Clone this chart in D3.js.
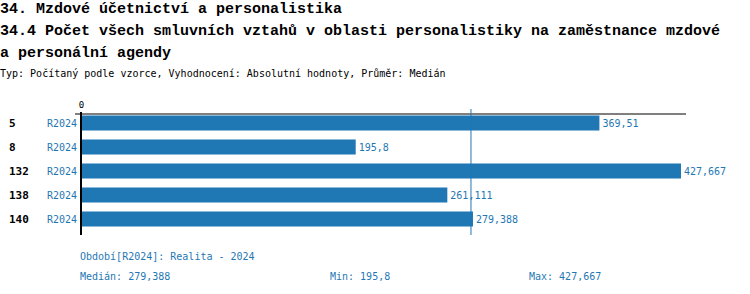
<!DOCTYPE html>
<html><head><meta charset="utf-8">
<script src="https://cdn.jsdelivr.net/npm/d3@7"></script>
<style>
body{margin:0;background:#fff}
text{font-family:"DejaVu Sans Mono","Liberation Mono",monospace}
text.t{font-family:"Liberation Mono","DejaVu Sans Mono",monospace}
</style></head>
<body>
<svg id="c" width="750" height="294"></svg>
<script>
const titleLines = ["34. Mzdové účetnictví a personalistika",
  "34.4 Počet všech smluvních vztahů v oblasti personalistiky na zaměstnance mzdové",
  "a personální agendy"];
const subtitle = "Typ: Počítaný podle vzorce, Vyhodnocení: Absolutní hodnoty, Průměr: Medián";
const categories = ["5", "8", "132", "138", "140"];
const periods = ["R2024", "R2024", "R2024", "R2024", "R2024"];
const values = [369.51, 195.8, 427.667, 261.111, 279.388];
const valueLabels = ["369,51", "195,8", "427,667", "261,111", "279,388"];
const tickValues = [0];
const medianValue = 279.388;
const footer1 = "Období[R2024]: Realita - 2024";
const footerStats = ["Medián: 279,388", "Min: 195,8", "Max: 427,667"];

const blue = "#1f77b4";
const svg = d3.select("#c");

svg.selectAll("text.t").data(titleLines).join("text").attr("class","t")
  .attr("x", 0).attr("y", (d,i)=>13 + i*22)
  .attr("font-size", 15).attr("font-weight","bold").attr("fill","#000").text(d=>d);
svg.append("text").attr("x",0).attr("y",77).attr("font-size",10).attr("fill","#000").text(subtitle);

const x = d3.scaleLinear().domain([0, 427.667]).range([81, 681]);
const y = d3.scaleBand().domain(categories.map((c,i)=>i)).range([111, 231]).paddingInner(0.375).paddingOuter(0.1875);

// bars
svg.selectAll("rect.b").data(values).join("rect").attr("class","b")
  .attr("x", x(0)).attr("y",(d,i)=>y(i)).attr("width", d=>x(d)-x(0)).attr("height", y.bandwidth())
  .attr("fill", blue);

// top axis
const ax = d3.axisTop(x).tickValues(tickValues).tickSize(0).tickFormat(d3.format("d"));
const axg = svg.append("g").attr("transform","translate(0,114)").call(ax);
axg.select(".domain").remove();
axg.selectAll("text").attr("font-size",9).attr("fill","#000").attr("dy","-3");
svg.append("line").attr("x1",x(0)-6).attr("x2",686).attr("y1",114).attr("y2",114).attr("stroke","#000").attr("stroke-width",1);
svg.append("line").attr("x1",x(0)).attr("x2",x(0)).attr("y1",112).attr("y2",235).attr("stroke","#000").attr("stroke-width",2);

// median line
svg.append("line").attr("x1",x(medianValue)-2).attr("x2",x(medianValue)-2).attr("y1",109).attr("y2",235)
  .attr("stroke", blue).attr("stroke-width",1);

// category labels
svg.selectAll("text.c").data(categories).join("text").attr("class","c")
  .attr("x",9).attr("y",(d,i)=>y(i)+y.bandwidth()/2+4).attr("font-size",11).attr("font-weight","bold")
  .attr("fill","#000").text(d=>d);
svg.selectAll("text.p").data(periods).join("text").attr("class","p")
  .attr("x",77).attr("y",(d,i)=>y(i)+y.bandwidth()/2+4).attr("text-anchor","end").attr("font-size",10)
  .attr("fill",blue).text(d=>d);
svg.selectAll("text.v").data(values).join("text").attr("class","v")
  .attr("x",d=>x(d)+3).attr("y",(d,i)=>y(i)+y.bandwidth()/2+4).attr("font-size",10)
  .attr("fill",blue).text((d,i)=>valueLabels[i]);

// footer
svg.append("text").attr("x",80).attr("y",260).attr("font-size",10).attr("fill",blue).text(footer1);
const fx = [80, 330, 529];
svg.selectAll("text.f").data(footerStats).join("text").attr("class","f")
  .attr("x",(d,i)=>fx[i]).attr("y",280).attr("font-size",10).attr("fill",blue).text(d=>d);
</script>
</body></html>
